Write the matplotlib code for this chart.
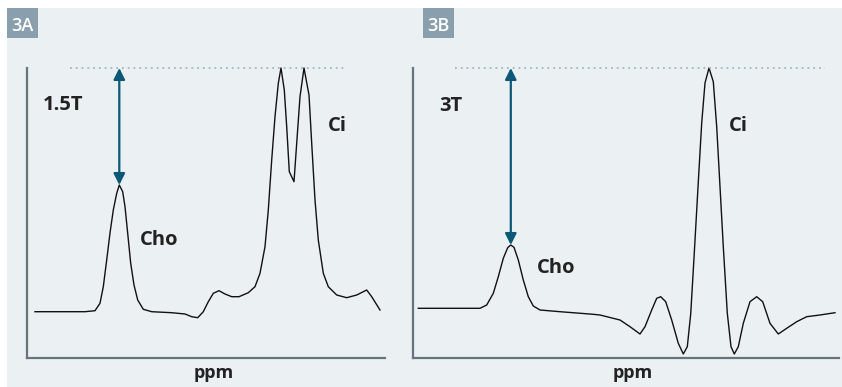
import matplotlib.pyplot as plt
from matplotlib.patches import Rectangle

plt.rcParams["font.family"] = ["Open Sans", "DejaVu Sans"]

# spectrum 3A (1.5T): position along the ppm axis and signal height (arbitrary units)
ppm_a = [8, 58, 68, 73, 76.3, 79.7, 83, 86.3, 89.7, 92.3, 95.7, 98, 100.7, 103.7,
         107, 110.7, 116.3, 124.7, 144.7, 158, 164.7, 170.7, 176.3, 181.3, 186.3,
         192, 198, 204.7, 212, 221.3, 228, 233, 238, 241.3, 244.7, 248, 251.3, 254,
         257.3, 259.7, 262.3, 267, 269.7, 273, 277, 282, 284.7, 288, 291.3, 296.3,
         301.3, 309.7, 319.7, 329.7, 339.7, 344.7, 353]
sig_a = [46.3, 46.3, 47.3, 54.7, 71.3, 98, 125, 148, 164.7, 173, 166.3, 151.3,
         124.7, 94.7, 73, 58, 48.7, 46.3, 45.3, 44, 41.3, 40.3, 46.3, 56.3, 64.7,
         67.3, 64, 61.3, 61.3, 65.3, 71.3, 84.7, 111.3, 148, 198, 241.3, 274.7, 290,
         268, 231.3, 186.3, 176.3, 214.7, 261.3, 290, 263, 214.7, 158, 118, 84.7,
         71.3, 63, 60.3, 63, 68, 61.3, 48]

# spectrum 3B (3T)
ppm_b = [5.8, 67.5, 74.2, 80.8, 85.8, 90.8, 95.2, 98.2, 101.5, 105.8, 110.8, 115.8,
         120.8, 127.5, 147.5, 180.8, 187.5, 207.5, 217.5, 227.5, 232.5, 239.2, 244.2,
         248.2, 253.2, 259.2, 265.8, 270.8, 274.8, 278.2, 281.5, 285.8, 289.2, 292.5,
         296.5, 300.8, 304.2, 307.5, 310.8, 314.8, 318.5, 321.8, 325.8, 330.8, 337.5,
         344.2, 350.2, 357.5, 365.8, 374.2, 384.2, 394.2, 407.5, 422.5]
sig_b = [49.7, 49.7, 53, 64.7, 81.3, 99.7, 110.3, 113, 110.7, 98, 78, 61.3, 52, 48,
         46.3, 43.7, 43, 38, 31.3, 24, 31.3, 48, 59.7, 61.3, 56.3, 38, 14.7, 4, 11.3,
         44, 100, 176, 235, 275, 290, 276.3, 231.3, 171.3, 111.3, 44.7, 11.3,
         4, 11.3, 34.7, 56.3, 61.3, 56.3, 34.7, 24, 29.7, 36.3, 41.3, 43, 45.3]

panels = [
    dict(tag="3A", field="1.5T", ppm=ppm_a, sig=sig_a, cho_x=92.3, cho_y=173,
         ref_span=(43, 318), xmax=358),
    dict(tag="3B", field="3T", ppm=ppm_b, sig=sig_b, cho_x=98.3, cho_y=113,
         ref_span=(42.5, 412.5), xmax=426.5),
]
ci_peak = 290

W, H = 842, 387
BG = "#ebf0f3"
TAG_BG = "#8a9fad"
AXIS = "#66757c"
ARROW = "#0b5877"
DOTS = "#a3b6c2"
TXT = "#222222"

fig = plt.figure(figsize=(W / 100, H / 100), dpi=100, facecolor="white")


def fx(x):
    return x / W


def fy(y):
    return 1 - y / H


# light panel background (behind the axes)
fig.patches.append(Rectangle((fx(7), 0), 1 - fx(7), fy(8), transform=fig.transFigure,
                             facecolor=BG, edgecolor="none", zorder=-5))

# axes boxes in pixel coords: left, right
boxes = [(27, 385), (412.5, 839)]
tag_boxes = [(7, 38), (422.7, 454)]
texts = [
    dict(field=(43, 110), cho=(139.5, 245), ci=(328, 130.7), ppm=(214, 378)),
    dict(field=(439.5, 110.7), cho=(536.7, 272.7), ci=(729, 131), ppm=(632.5, 378)),
]

for p, (l, r), (tl, tr), t in zip(panels, boxes, tag_boxes, texts):
    ax = fig.add_axes([fx(l), fy(358), fx(r - l), (358 - 68) / H])
    ax.set_facecolor("none")
    ax.plot(p["ppm"], p["sig"], color="#111111", lw=1.0, clip_on=False,
            solid_joinstyle="round")
    ax.set_xlim(0, p["xmax"])
    ax.set_ylim(0, ci_peak)
    ax.hlines(ci_peak, *p["ref_span"], colors=DOTS, linestyles=(0, (1, 2.2)), lw=1.3,
              clip_on=False)
    ax.annotate("", xy=(p["cho_x"], p["cho_y"]), xytext=(p["cho_x"], ci_peak),
                arrowprops=dict(arrowstyle="<|-|>", color=ARROW, lw=1.6,
                                mutation_scale=17, shrinkA=0, shrinkB=0))
    for s in ["top", "right"]:
        ax.spines[s].set_visible(False)
    for s in ["left", "bottom"]:
        ax.spines[s].set_color(AXIS)
        ax.spines[s].set_linewidth(1.6)
    ax.set_xticks([])
    ax.set_yticks([])

    # panel tag
    fig.patches.append(Rectangle((fx(tl), fy(38)), fx(tr - tl), 30 / H,
                                 transform=fig.transFigure, facecolor=TAG_BG,
                                 edgecolor="none", zorder=1))
    fig.text(fx((tl + tr) / 2), fy(30.7), p["tag"], color="white", fontsize=13,
             fontweight="semibold", ha="center", va="baseline", zorder=2)

    fig.text(fx(t["field"][0]), fy(t["field"][1]), p["field"], color=TXT,
             fontsize=14.5, fontweight="bold", ha="left", va="baseline")
    fig.text(fx(t["cho"][0]), fy(t["cho"][1]), "Cho", color=TXT,
             fontsize=14.5, fontweight="bold", ha="left", va="baseline")
    fig.text(fx(t["ci"][0]), fy(t["ci"][1]), "Ci", color=TXT,
             fontsize=14.5, fontweight="bold", ha="left", va="baseline")
    fig.text(fx(t["ppm"][0]), fy(t["ppm"][1]), "ppm", color=TXT,
             fontsize=13, fontweight="bold", ha="center", va="baseline")

plt.savefig("out.png", dpi=100, facecolor="white")
plt.close()
